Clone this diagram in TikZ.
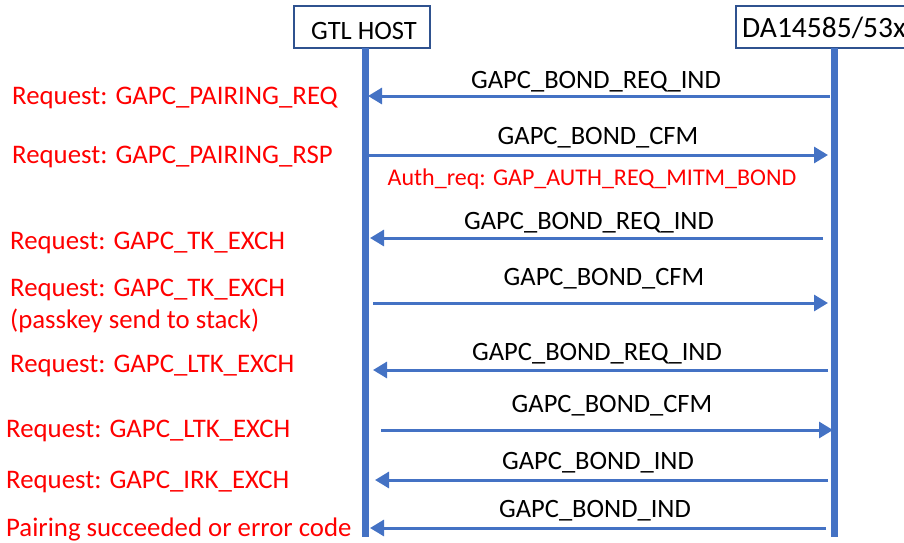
\documentclass[tikz,border=0pt]{standalone}
\usepackage{fontspec}
\setmainfont{Carlito}
\usetikzlibrary{arrows.meta}

\definecolor{lineblue}{HTML}{4472C4}
\definecolor{boxblue}{HTML}{2F528F}

\tikzset{
  actor/.style={draw=boxblue, line width=2pt, fill=white, minimum height=42pt, inner sep=0pt},
  life/.style={lineblue, line width=7pt},
  msg/.style={lineblue, line width=3pt, -{Triangle[length=14pt, width=16pt]}},
  msgtext/.style={inner sep=0pt, anchor=base, font=\fontsize{26.5}{30}\selectfont},
  req/.style={inner sep=0pt, anchor=base west, text=red, font=\fontsize{26.8}{30}\selectfont},
  note/.style={inner sep=0pt, anchor=base, text=red, font=\fontsize{24}{28}\selectfont}
}

\begin{document}
\begin{tikzpicture}[x=1pt, y=-1pt]
\clip (0,0) rectangle (904,542);

% the two sides
\node [actor, minimum width=136pt, anchor=north west] (host) at (293,5) {};
\node [inner sep=0pt, anchor=base, font=\fontsize{26.5}{30}\selectfont] (hostname) at (364,39) {GTL HOST};
\node [actor, minimum width=190pt, anchor=north west] (dev) at (735,5) {};
\node [inner sep=0pt, anchor=base west, font=\fontsize{29.5}{33}\selectfont] (devname) at (742,37) {DA14585/53x};

\coordinate (hostend) at (365,537);
\coordinate (devend) at (834,537);
\draw [life] (365,48) -- (hostend);
\draw [life] (834,48) -- (devend);

% message end points
\coordinate (h1) at (368,96);  \coordinate (d1) at (830,96);
\coordinate (h2) at (368,155); \coordinate (d2) at (828,155);
\coordinate (h3) at (370,238); \coordinate (d3) at (823,238);
\coordinate (h4) at (373,303); \coordinate (d4) at (828,303);
\coordinate (h5) at (373,370); \coordinate (d5) at (828,370);
\coordinate (h6) at (381,430); \coordinate (d6) at (833,430);
\coordinate (h7) at (375,480); \coordinate (d7) at (828,480);
\coordinate (h8) at (370,528); \coordinate (d8) at (826,528);

\draw [msg] (d1) -- (h1);
\draw [msg] (h2) -- (d2);
\draw [msg] (d3) -- (h3);
\draw [msg] (h4) -- (d4);
\draw [msg] (d5) -- (h5);
\draw [msg] (h6) -- (d6);
\draw [msg] (d7) -- (h7);
\draw [msg] (d8) -- (h8);

% message names
\node [msgtext] (m1) at (596,88.5) {GAPC\_BOND\_REQ\_IND};
\node [msgtext] (m2) at (598,144.5) {GAPC\_BOND\_CFM};
\node [note] (auth) at (592,185) {Auth\_req: GAP\_AUTH\_REQ\_MITM\_BOND};
\node [msgtext] (m3) at (589,229.5) {GAPC\_BOND\_REQ\_IND};
\node [msgtext] (m4) at (604,285.5) {GAPC\_BOND\_CFM};
\node [msgtext] (m5) at (597,360.5) {GAPC\_BOND\_REQ\_IND};
\node [msgtext] (m6) at (612,412.5) {GAPC\_BOND\_CFM};
\node [msgtext] (m7) at (598,469.5) {GAPC\_BOND\_IND};
\node [msgtext] (m8) at (595,517.5) {GAPC\_BOND\_IND};

% host side requests
\node [req] (r1) at (12,104.5) {Request: GAPC\_PAIRING\_REQ};
\node [req] (r2) at (12,163.5) {Request: GAPC\_PAIRING\_RSP};
\node [req] (r3) at (10,249.5) {Request: GAPC\_TK\_EXCH};
\node [req] (r4) at (10,296.5) {Request: GAPC\_TK\_EXCH};
\node [req] (r4b) at (10,328.5) {(passkey send to stack)};
\node [req] (r5) at (10,372.5) {Request: GAPC\_LTK\_EXCH};
\node [req] (r6) at (6,437.5) {Request: GAPC\_LTK\_EXCH};
\node [req] (r7) at (6,488.5) {Request: GAPC\_IRK\_EXCH};
\node [req] (r8) at (6,536.5) {Pairing succeeded or error code};
\end{tikzpicture}
\end{document}
